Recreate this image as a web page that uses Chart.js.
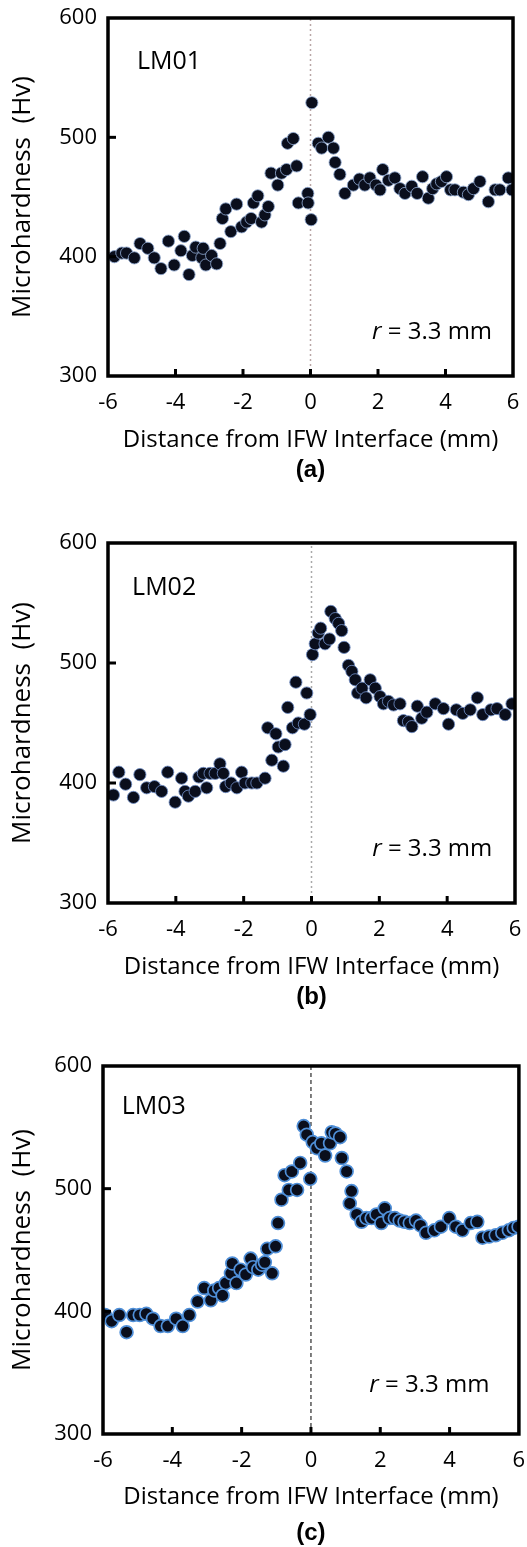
<!DOCTYPE html>
<html><head><meta charset="utf-8">
<script src="https://cdn.jsdelivr.net/npm/chart.js@4.4.1/dist/chart.umd.min.js"></script>
<style>
html,body{margin:0;padding:0;background:#fff;}
#wrap{position:relative;width:527px;height:1547px;overflow:hidden;background:#fff;}
canvas{position:absolute;left:0;}
</style></head><body>
<div id="wrap">
<canvas id="cA" width="527" height="500" style="top:0px"></canvas>
<canvas id="cB" width="527" height="530" style="top:500px"></canvas>
<canvas id="cC" width="527" height="517" style="top:1030px"></canvas>
</div>
<script>
// ---- tick labels / axis ----
const xTickValues = [-6, -4, -2, 0, 2, 4, 6];
const yTickValues = [300, 400, 500, 600];
const xTitle = 'Distance from IFW Interface (mm)';
const yTitle = 'Microhardness  (Hv)';
const panelLabels = ['(a)', '(b)', '(c)'];
const sampleNames = ['LM01', 'LM02', 'LM03'];

// ---- LM01 ----
const lm01X = [-5.81,-5.59,-5.45,-5.22,-5.05,-4.82,-4.63,-4.43,-4.21,-4.04,-3.84,-3.74,-3.60,-3.50,-3.40,-3.22,-3.18,-3.10,-2.93,-2.78,-2.68,-2.61,-2.51,-2.36,-2.19,-2.04,-1.89,-1.76,-1.69,-1.56,-1.45,-1.35,-1.25,-1.17,-0.97,-0.86,-0.71,-0.68,-0.51,-0.41,-0.36,-0.08,-0.07,0.02,0.04,0.23,0.33,0.53,0.68,0.73,0.87,1.02,1.27,1.45,1.61,1.76,1.94,2.06,2.14,2.31,2.50,2.65,2.80,3.00,3.16,3.32,3.49,3.62,3.74,3.88,4.03,4.15,4.28,4.53,4.68,4.83,5.02,5.27,5.47,5.61,5.86,5.97];
const lm01Y = [400,403,403,399,411,407,399,390,413,393,405,417,385,401,408,399,407,393,401,394,411,432,440,421,444,425,429,432,445,451,429,435,442,470,460,470,473,495,499,476,445,453,445,431,529,495,491,500,491,479,469,453,460,465,460,466,460,456,473,464,466,457,453,459,453,467,449,457,461,463,467,456,456,454,452,457,463,446,456,456,466,456];

// ---- LM02 ----
const lm02X = [-5.84,-5.68,-5.48,-5.25,-5.06,-4.86,-4.63,-4.42,-4.24,-4.02,-3.83,-3.73,-3.63,-3.43,-3.32,-3.19,-3.09,-2.99,-2.84,-2.70,-2.60,-2.53,-2.37,-2.20,-2.06,-1.96,-1.76,-1.61,-1.37,-1.29,-1.17,-1.05,-0.98,-0.83,-0.78,-0.70,-0.56,-0.46,-0.39,-0.21,-0.14,-0.04,0.03,0.11,0.20,0.27,0.40,0.53,0.57,0.70,0.80,0.89,0.96,1.09,1.19,1.29,1.36,1.49,1.61,1.73,1.88,2.02,2.12,2.27,2.42,2.61,2.71,2.86,2.96,3.12,3.25,3.40,3.65,3.89,4.04,4.27,4.46,4.68,4.89,5.05,5.29,5.47,5.71,5.91];
const lm02Y = [390,409,399,388,407,396,397,393,409,384,404,393,389,393,405,408,396,408,408,416,408,397,400,396,409,400,400,400,404,446,419,441,430,414,432,463,446,484,450,449,475,457,507,516,525,529,516,520,543,537,533,527,513,498,493,486,475,479,471,486,479,472,466,468,465,466,452,451,447,464,454,459,466,462,449,461,458,461,471,457,461,462,457,466];

// ---- LM03 ----
const lm03X = [-5.94,-5.75,-5.53,-5.32,-5.13,-4.94,-4.75,-4.56,-4.34,-4.13,-3.89,-3.70,-3.51,-3.27,-3.08,-2.89,-2.79,-2.65,-2.55,-2.46,-2.31,-2.27,-2.15,-2.03,-1.88,-1.74,-1.67,-1.52,-1.41,-1.33,-1.26,-1.12,-1.02,-0.95,-0.85,-0.76,-0.64,-0.55,-0.40,-0.31,-0.21,-0.12,-0.02,0.05,0.17,0.30,0.41,0.55,0.60,0.71,0.84,0.89,1.03,1.12,1.17,1.32,1.46,1.60,1.75,1.89,2.03,2.13,2.27,2.42,2.56,2.70,2.85,3.03,3.16,3.32,3.56,3.75,3.99,4.18,4.37,4.61,4.80,4.95,5.14,5.33,5.52,5.71,5.85,5.99];
const lm03Y = [397,392,397,383,397,397,398,394,388,388,394,388,397,408,419,409,417,419,413,423,431,439,423,434,430,443,436,434,438,440,451,431,453,472,491,511,499,514,499,521,551,544,508,538,533,537,527,537,546,545,542,525,514,488,498,479,473,476,476,479,472,484,476,476,474,473,472,474,470,464,466,469,476,469,466,472,473,460,461,462,464,466,468,469];

// ---- annotation anchor values (data units) ----
const nameAnchorX = [-5.14, -5.29, -5.46];
const nameAnchorY = [563, 563, 567];
const noteAnchorX = [5.38, 5.33, 5.15];
const noteAnchorY = [337, 345, 340];

const seriesX = [lm01X, lm02X, lm03X];
const seriesY = [lm01Y, lm02Y, lm03Y];

const panels = [
  {id:'cA', H:500, top:18, bottom:376, left:108, right:513, xTitleY:440, capY:470,
   lineColor:'#b9a6a6', lineDash:[2,3], lineW:1.5, ptBorder:'rgba(140,165,205,0.85)', ptBW:1, ptR:6.1},
  {id:'cB', H:530, top:43, bottom:403, left:108, right:515, xTitleY:467, capY:497,
   lineColor:'#a9a9a9', lineDash:[2,3], lineW:1.5, ptBorder:'rgba(110,140,195,0.85)', ptBW:1, ptR:6.1},
  {id:'cC', H:517, top:36, bottom:404, left:103, right:522, xTitleY:467, capY:503,
   lineColor:'#555555', lineDash:[4,3], lineW:1.5, ptBorder:'#4f8fd8', ptBW:1.7, ptR:6.4}
];

const FONT = "'Open Sans', 'DejaVu Sans', sans-serif";

const framePlugin = {
  id: 'frame',
  afterDatasetsDraw(chart, args, o) {
    const {ctx, chartArea: a, scales: {x, y}} = chart;
    ctx.save();
    ctx.strokeStyle = '#000';
    ctx.lineWidth = 3.5;
    ctx.strokeRect(a.left, a.top, a.right - a.left, a.bottom - a.top);
    ctx.lineWidth = 3;
    xTickValues.forEach(v => {
      if (v > x.min && v < x.max) {
        const p = x.getPixelForValue(v);
        ctx.beginPath(); ctx.moveTo(p, a.bottom); ctx.lineTo(p, a.bottom - 7); ctx.stroke();
      }
    });
    yTickValues.forEach(v => {
      if (v > y.min && v < y.max) {
        const p = y.getPixelForValue(v);
        ctx.beginPath(); ctx.moveTo(a.left, p); ctx.lineTo(a.left + 8, p); ctx.stroke();
      }
    });
    // sample name
    ctx.fillStyle = '#000';
    ctx.textBaseline = 'middle';
    ctx.textAlign = 'left';
    ctx.font = "25px " + FONT;
    ctx.fillText(o.name, x.getPixelForValue(o.nameX), y.getPixelForValue(o.nameY));
    // r = 3.3 mm (italic r)
    ctx.font = "24px " + FONT;
    const rest = ' = 3.3 mm';
    const wRest = ctx.measureText(rest).width;
    ctx.font = "italic 24px " + FONT;
    const wR = ctx.measureText('r').width;
    const xr = x.getPixelForValue(o.noteX);
    const yr = y.getPixelForValue(o.noteY);
    ctx.fillText('r', xr - wRest - wR, yr);
    ctx.font = "24px " + FONT;
    ctx.fillText(rest, xr - wRest, yr);
    // panel caption
    ctx.textAlign = 'center';
    ctx.font = "bold 24px 'Liberation Sans', Arial, sans-serif";
    ctx.fillText(o.caption, (a.left + a.right) / 2, o.capY);
    ctx.restore();
  }
};

panels.forEach((p, i) => {
  const pts = seriesX[i].map((v, k) => ({x: v, y: seriesY[i][k]}));
  new Chart(document.getElementById(p.id), {
    type: 'scatter',
    data: {
      datasets: [
        {
          label: sampleNames[i],
          data: pts,
          order: 0,
          pointRadius: p.ptR,
          pointHoverRadius: p.ptR,
          pointBackgroundColor: '#0a0e1c',
          pointBorderColor: p.ptBorder,
          pointBorderWidth: p.ptBW
        },
        {
          label: 'interface',
          type: 'line',
          data: [{x: 0, y: yTickValues[0]}, {x: 0, y: yTickValues[yTickValues.length - 1]}],
          order: 1,
          borderColor: p.lineColor,
          borderWidth: p.lineW,
          borderDash: p.lineDash,
          pointRadius: 0,
          fill: false
        }
      ]
    },
    options: {
      responsive: false,
      animation: false,
      devicePixelRatio: 1,
      layout: {padding: {top: p.top, right: 527 - p.right, left: 0, bottom: 0}},
      plugins: {
        legend: {display: false},
        tooltip: {enabled: false},
        frame: {name: sampleNames[i], nameX: nameAnchorX[i], nameY: nameAnchorY[i],
                noteX: noteAnchorX[i], noteY: noteAnchorY[i], caption: panelLabels[i], capY: p.capY}
      },
      scales: {
        x: {
          type: 'linear',
          min: xTickValues[0],
          max: xTickValues[xTickValues.length - 1],
          grid: {display: false, drawTicks: false},
          border: {display: false},
          afterBuildTicks: s => { s.ticks = xTickValues.map(v => ({value: v})); },
          ticks: {color: '#000', font: {size: 22, family: FONT}, padding: 14, autoSkip: false, maxRotation: 0,
                  callback: v => String(v)},
          title: {display: true, text: xTitle, color: '#000', font: {size: 24, family: FONT},
                  padding: {top: 0, bottom: p.H - p.xTitleY - 14.4}},
          afterFit: s => { s.height = p.H - p.bottom; s.paddingLeft = 0; s.paddingRight = 0; }
        },
        y: {
          type: 'linear',
          min: yTickValues[0],
          max: yTickValues[yTickValues.length - 1],
          grid: {display: false, drawTicks: false},
          border: {display: false},
          afterBuildTicks: s => { s.ticks = yTickValues.map(v => ({value: v})); },
          ticks: {color: '#000', font: {size: 22, family: FONT}, padding: 11, autoSkip: false,
                  callback: v => String(v)},
          title: {display: true, text: yTitle, color: '#000', font: {size: 26, family: FONT},
                  padding: {top: 7, bottom: 0}},
          afterFit: s => { s.width = p.left; s.paddingTop = 0; s.paddingBottom = 0; }
        }
      }
    },
    plugins: [framePlugin]
  });
});
</script>
</body></html>
